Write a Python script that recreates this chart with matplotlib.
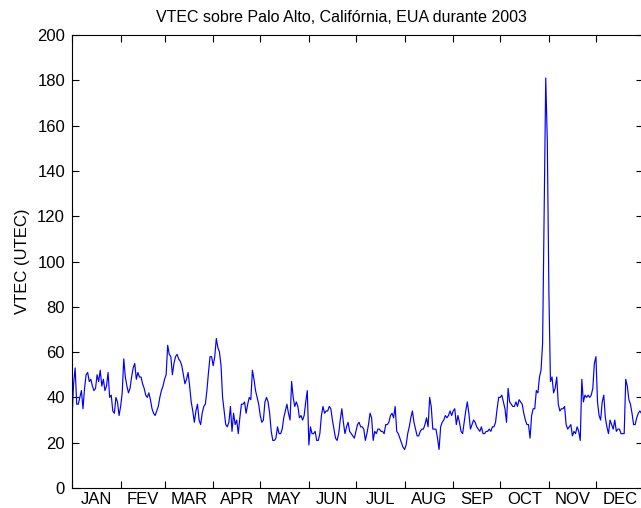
#!/usr/bin/env python3
"""
VTEC over Palo Alto during 2003
Daily vertical total electron content, MATLAB-like styling.
"""

import matplotlib
matplotlib.use('Agg')
import matplotlib.pyplot as plt
import numpy as np

# Daily VTEC values (TECU), day 1 .. 365
vtec_jan_feb = [
    30, 46, 53, 37, 37, 40, 43, 35, 44, 50,
    51, 47, 48, 45, 43, 44, 50, 47, 52, 45,
    48, 43, 45, 51, 40, 41, 34, 33, 40, 38,
    32, 36, 42, 57, 49, 45, 42, 44, 49, 53,
    55, 48, 51, 49, 49, 46, 44, 41, 40, 42,
    39, 35, 33, 32, 34, 36, 40, 43, 45, 48,
    50, 63,
]
vtec_mar_apr = [
    59, 58, 50, 55, 58, 59, 57, 56, 54, 50,
    46, 48, 51, 45, 38, 34, 29, 34, 37, 30,
    28, 33, 36, 37, 43, 51, 58, 58, 54, 58,
    66, 62, 60, 54, 40, 34, 28, 27, 29, 36,
    25, 33, 28, 30, 24, 31, 37, 37, 38, 33,
    37, 40, 39, 52, 48, 43, 40, 37, 32, 29,
    30,
]
vtec_may_jun = [
    38, 40, 38, 33, 25, 21, 21, 22, 27, 24,
    24, 26, 31, 34, 37, 33, 30, 47, 40, 36,
    38, 36, 31, 32, 30, 32, 38, 43, 19, 27,
    24, 24, 25, 21, 21, 24, 32, 36, 33, 34,
    34, 36, 35, 30, 26, 22, 21, 24, 30, 35,
    29, 24, 27, 29, 25, 24, 23, 22, 25, 28,
    29,
]
vtec_jul_aug = [
    27, 27, 26, 21, 24, 28, 33, 31, 21, 25,
    24, 26, 26, 25, 25, 24, 28, 28, 29, 32,
    33, 31, 36, 25, 24, 22, 20, 18, 17, 19,
    24, 27, 31, 34, 29, 26, 23, 23, 25, 26,
    26, 28, 31, 27, 40, 36, 26, 26, 26, 22,
    17, 27, 29, 30, 32, 31, 32, 34, 32, 34,
    35,
]
vtec_sep_oct = [
    28, 32, 29, 25, 24, 29, 34, 38, 33, 26,
    28, 30, 29, 27, 26, 25, 27, 24, 24, 25,
    25, 26, 25, 27, 27, 29, 35, 40, 40, 41,
    38, 35, 29, 44, 38, 37, 36, 36, 38, 36,
    39, 38, 37, 33, 30, 28, 28, 22, 32, 35,
    35, 43, 42, 49, 52,
]
vtec_nov_dec = [
    64, 124, 181, 153, 87, 47, 49, 42, 44, 49,
    37, 34, 35, 35, 36, 28, 26, 27, 28, 23,
    25, 24, 27, 25, 21, 48, 38, 41, 40, 41,
    40, 41, 44, 55, 58, 38, 32, 30, 38, 41,
    31, 27, 24, 30, 28, 26, 30, 25, 26, 26,
    24, 24, 24, 48, 45, 39, 37, 33, 28, 28,
    31, 33, 34, 33, 34,
]

month_labels = ['JAN', 'FEV', 'MAR', 'APR', 'MAY', 'JUN',
                'JUL', 'AUG', 'SEP', 'OCT', 'NOV', 'DEC']
month_start_days = [1, 32, 60, 91, 121, 152, 182, 213, 244, 274, 305, 335, 366]


def create_vtec_plot(output_file):
    """Draw the yearly VTEC series."""
    vtec = (vtec_jan_feb + vtec_mar_apr + vtec_may_jun +
            vtec_jul_aug + vtec_sep_oct + vtec_nov_dec)
    days = np.arange(1, len(vtec) + 1)

    plt.rcParams['font.family'] = ['Liberation Sans', 'DejaVu Sans']
    fig = plt.figure(figsize=(6.41, 5.08), dpi=100)
    ax = fig.add_axes([72 / 641, 20 / 508, 571 / 641, 453 / 508])

    ax.plot(days, vtec, color='#0000ff', linewidth=0.85)

    ax.set_xlim(1, 365)
    ax.set_ylim(0, 200)
    ax.set_yticks(np.arange(0, 201, 20))

    # month boundaries as tick marks, names centred between them
    ax.set_xticks(month_start_days[:-1])
    ax.set_xticklabels([])
    mids = [(a + b) / 2 for a, b in zip(month_start_days[:-1], month_start_days[1:])]
    ax.set_xticks(mids, minor=True)
    ax.set_xticklabels(month_labels, minor=True)

    ax.tick_params(axis='both', which='major', direction='in', length=5,
                   width=0.8, top=True, right=True, labelsize=12, pad=5)
    ax.tick_params(axis='x', which='minor', length=0, labelsize=12, pad=3)

    for spine in ax.spines.values():
        spine.set_linewidth(0.8)

    ax.set_ylabel('VTEC (UTEC)', fontsize=12, labelpad=5)
    ax.set_title('VTEC sobre Palo Alto, Califórnia, EUA durante 2003',
                 fontsize=11.5, pad=9, x=0.471)

    fig.savefig(output_file, dpi=100)
    plt.close(fig)


def main():
    create_vtec_plot('out.png')
    return 0


if __name__ == '__main__':
    exit(main())
